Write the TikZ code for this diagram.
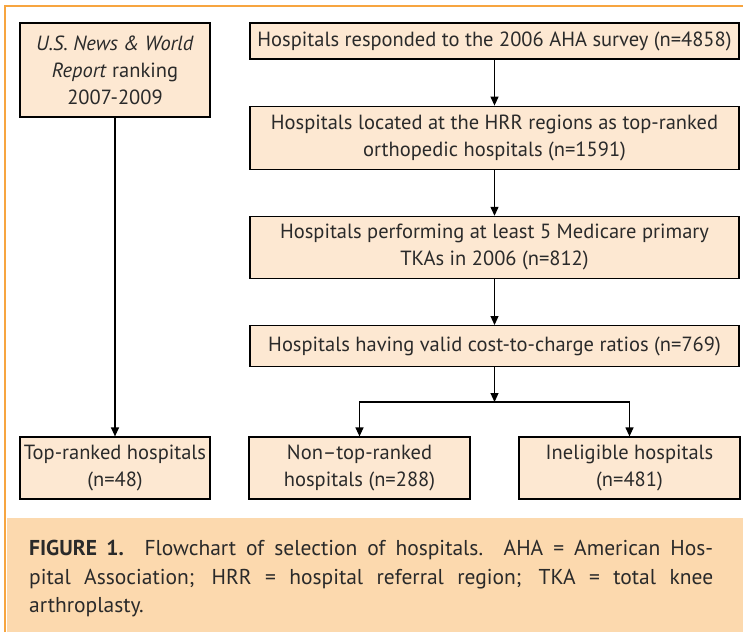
\documentclass[tikz,border=0pt]{standalone}
\usepackage{fontspec}
\setmainfont{PT Sans}
\usetikzlibrary{positioning,arrows.meta}
\definecolor{boxfill}{HTML}{FDE8D2}
\definecolor{capfill}{HTML}{FCD9AE}
\definecolor{frameorange}{HTML}{F7A540}
\definecolor{inkgray}{HTML}{2A2A2A}

\begin{document}
\begin{tikzpicture}[
    x=1pt, y=-1pt,
    font=\fontsize{20.5}{27}\selectfont,
    node distance=46pt and 40pt,
    box/.style={draw, line width=1.2pt, fill=boxfill, text=inkgray,
                minimum width=489pt, inner xsep=3pt, inner ysep=2pt,
                align=center},
    side/.style={box, minimum width=190pt, minimum height=62pt},
    arr/.style={-{Triangle[length=9pt,width=8pt]}, line width=1.2pt}
  ]
    \useasboundingbox (0,0) rectangle (743,632);
    % frame and caption panel
    \draw[frameorange, line width=2.5pt] (5,632) -- (5,6) -- (743,6);
    \fill[capfill] (6.5,518) rectangle (743,632);
    \node[anchor=north west, inner sep=0pt, text width=684pt, align=justify,
          text=inkgray, font=\fontsize{21.5}{28.5}\selectfont] (caption) at (29,540)
      {\textbf{FIGURE 1.} Flowchart of selection of hospitals. AHA = American Hos-\linebreak
       pital Association; HRR = hospital referral region; TKA = total knee\linebreak
       arthroplasty.};
    % main column
    \node[box, minimum height=36pt] (resp) at (494.5,41)
      {Hospitals responded to the 2006 AHA survey (n=4858)};
    \node[box, minimum height=63pt, below=of resp] (hrr)
      {Hospitals located at the HRR regions as top-ranked\\orthopedic hospitals (n=1591)};
    \node[box, minimum height=62pt, below=of hrr] (tka)
      {Hospitals performing at least 5 Medicare primary\\TKAs in 2006 (n=812)};
    \node[box, minimum height=41pt, below=of tka] (ccr)
      {Hospitals having valid cost-to-charge ratios (n=769)};
    \coordinate (split) at (494.5,402);
    \node[box, minimum width=221pt, minimum height=62pt] (nontop) at (359.5,468)
      {Non--top-ranked\\hospitals (n=288)};
    \node[box, minimum width=221pt, minimum height=62pt] (inelig) at (629.5,468)
      {Ineligible hospitals\\(n=481)};
    % left column
    \node[side, minimum height=94pt] (usnews) at (115,70)
      {\textit{U.S. News \& World}\\\textit{Report} ranking\\2007-2009};
    \node[side] (toprank) at (115,468) {Top-ranked hospitals\\(n=48)};
    \draw[arr] (resp) -- (hrr);
    \draw[arr] (hrr) -- (tka);
    \draw[arr] (tka) -- (ccr);
    \draw[arr] (ccr) -- (split);
    \draw[arr] (split) -| (nontop);
    \draw[arr] (split) -| (inelig);
    \draw[arr] (usnews) -- (toprank);
  \end{tikzpicture}
\end{document}
